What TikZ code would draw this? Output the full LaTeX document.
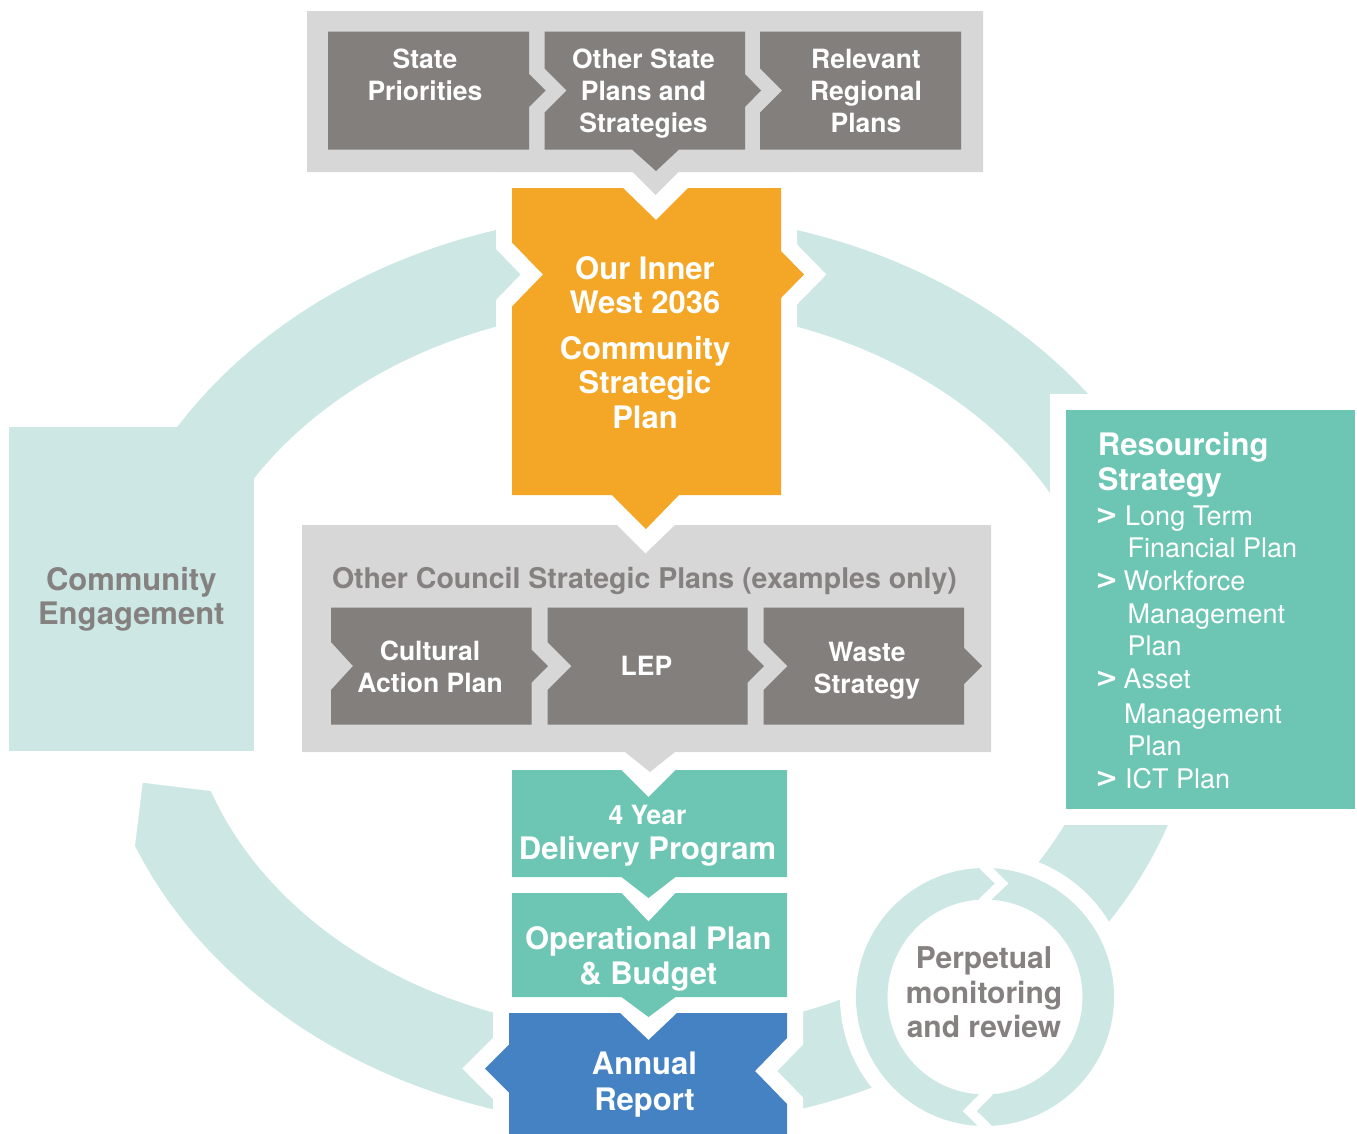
\documentclass[tikz,border=0pt]{standalone}
\usepackage{fontspec}
\setmainfont{TeX Gyre Heros}
\newfontfamily\chevfont{DejaVu Sans}
\definecolor{dgray}{HTML}{837F7C}
\definecolor{lgray}{HTML}{D7D7D7}
\definecolor{orng}{HTML}{F4A726}
\definecolor{tealm}{HTML}{6CC6B3}
\definecolor{teall}{HTML}{CDE8E4}
\definecolor{blu}{HTML}{4582C3}
\definecolor{gtext}{HTML}{858180}
\begin{document}
\begin{tikzpicture}[x=1pt,y=-1pt,
  halo/.style={preaction={draw=white,line width=32pt,line join=miter,miter limit=10}},
  boxtxt/.style={font=\fontsize{26.5}{32}\selectfont\bfseries,text=white,align=center,inner sep=0pt,anchor=north},
  bigtxt/.style={font=\fontsize{31}{34}\selectfont\bfseries,text=white,align=center,inner sep=0pt,anchor=north},
  graytxt/.style={font=\fontsize{31}{34}\selectfont\bfseries,text=gtext,align=center,inner sep=0pt,anchor=north},
  itemtxt/.style={font=\fontsize{27}{32}\selectfont,text=white,inner sep=0pt,anchor=base west},
  arrtxt/.style={font=\chevfont\fontsize{27.5}{32}\selectfont\bfseries,text=white,inner sep=0pt,anchor=base west}]
\useasboundingbox (0,0) rectangle (1357,1133);
% big ring
\fill[teall,even odd rule] (646.5,670) ellipse [x radius=554pt,y radius=457pt]
  (646.5,670) ellipse [x radius=462pt,y radius=363pt];
% cut at end of bottom-left piece
\fill[white] (135,846) -- (142.7,782.7) -- (211,791) -- (262,797) -- (262,751) -- (0,751) -- (0,846) -- cycle;
% community engagement box
\fill[teall] (9,427) rectangle (254,751);
% orange box
\fill[orng,halo] (512,188) -- (623,188) -- (656,220) -- (688,188) -- (781,188) -- (781,251) -- (804,274.5) -- (781,298)
  -- (781,495) -- (679,495) -- (646,529) -- (612,495) -- (512,495) -- (512,306.5) -- (543,274.5) -- (512,242.5) -- cycle;
% resourcing box
\fill[tealm,halo] (1066,410) rectangle (1355,809);
% annual report
\fill[blu,halo] (509,1013) -- (620,1013) -- (648.5,1040) -- (677,1013) -- (787,1013) -- (787,1038) -- (755,1071)
  -- (787,1104) -- (787,1140) -- (509,1140) -- (509,1092.5) -- (485,1068.5) -- (509,1044.5) -- cycle;
% small circle
\fill[white] (985,997) circle[radius=145pt];
\fill[teall,even odd rule] (985,997) circle[radius=129pt] (985,997) circle[radius=97.5pt];
\fill[white] (979,858) -- (979,868) -- (995,883.5) -- (979,899) -- (979,906) -- (991,906) -- (991,900) -- (1008.3,883.5) -- (993,868) -- (993,858) -- cycle;
\fill[white] (978.5,1088) -- (978.5,1095) -- (962.7,1111) -- (979,1127) -- (979,1136) -- (993,1136) -- (993,1127) -- (976.7,1111) -- (992.5,1095) -- (992.5,1088) -- cycle;
% top panel
\fill[lgray] (307,11) -- (983,11) -- (983,172) -- (678.5,172) -- (655.5,195) -- (632.5,172) -- (307,172) -- cycle;
\fill[dgray] (328,31.5) -- (529,31.5) -- (529,74) -- (545.5,90.5) -- (529,107) -- (529,149.5) -- (328,149.5) -- cycle;
\fill[dgray] (544.5,31.5) -- (745,31.5) -- (745,74) -- (761,90.5) -- (745,107) -- (745,149.5) -- (679,149.5) -- (656,171)
  -- (632,149.5) -- (544.5,149.5) -- (544.5,112.5) -- (566.5,90.5) -- (544.5,68.5) -- cycle;
\fill[dgray] (760,31.5) -- (961,31.5) -- (961,149.5) -- (760,149.5) -- (760,112.5) -- (782,90.5) -- (760,68.5) -- cycle;
% middle panel
\fill[lgray] (302,525) -- (617,525) -- (645.5,553.5) -- (675,525) -- (991,525) -- (991,752) -- (675,752) -- (650,772)
  -- (625,752) -- (302,752) -- cycle;
\fill[dgray] (331,607.5) -- (531.5,607.5) -- (531.5,649.5) -- (548,666) -- (531.5,682.5) -- (531.5,724.5) -- (331,724.5)
  -- (331,690) -- (353,666) -- (331,642) -- cycle;
\fill[dgray] (547.5,607.5) -- (747.5,607.5) -- (747.5,649.5) -- (764,666) -- (747.5,682.5) -- (747.5,724.5) -- (547.5,724.5)
  -- (547.5,690) -- (571.5,666) -- (547.5,642) -- cycle;
\fill[dgray] (763.5,607.5) -- (964,607.5) -- (964,648) -- (982,666) -- (964,684) -- (964,724.5) -- (763.5,724.5)
  -- (763.5,690) -- (787.5,666) -- (763.5,642) -- cycle;
% delivery program and operational plan
\fill[tealm] (512,770) -- (621.5,770) -- (648.5,797) -- (675.5,770) -- (787,770) -- (787,877) -- (675.5,877) -- (648.5,898)
  -- (621.5,877) -- (512,877) -- cycle;
\fill[tealm] (512,893) -- (621.5,893) -- (648.5,921.5) -- (675.5,893) -- (787,893) -- (787,997) -- (675.5,997) -- (648.5,1017)
  -- (621.5,997) -- (512,997) -- cycle;
% texts
\node[boxtxt] (t1) at (425,48.5) {State\\Priorities};
\node[boxtxt] (t2) at (643.5,48.5) {Other State\\Plans and\\Strategies};
\node[boxtxt] (t3) at (866,48.5) {Relevant\\Regional\\Plans};
\node[bigtxt] (o1) at (645,256.3) {Our Inner\\West 2036};
\node[bigtxt,font=\fontsize{31}{34.2}\selectfont\bfseries] (o2) at (645,336.3) {Community\\Strategic\\Plan};
\node[graytxt,font=\fontsize{28.5}{32}\selectfont\bfseries] (oc) at (644.5,567.2) {Other Council Strategic Plans (examples only)};
\node[boxtxt] (m1) at (430,640.5) {Cultural\\Action Plan};
\node[boxtxt] (m2) at (646.5,655.5) {LEP};
\node[boxtxt] (m3) at (867,641.8) {Waste\\Strategy};
\node[boxtxt] (d1) at (647.5,805.2) {4 Year};
\node[bigtxt] (d2) at (647.5,835.8) {Delivery Program};
\node[bigtxt,font=\fontsize{31}{35}\selectfont\bfseries] (op) at (648.3,925.8) {Operational Plan\\\& Budget};
\node[bigtxt,font=\fontsize{31}{36}\selectfont\bfseries] (ar) at (644.5,1051.8) {Annual\\Report};
\node[graytxt] (ce) at (131.3,566.8) {Community\\Engagement};
\node[graytxt,font=\fontsize{30}{34.5}\selectfont\bfseries] (pm) at (984,946.7) {Perpetual\\monitoring\\and review};
\node[bigtxt,align=left,anchor=north west,font=\fontsize{31}{35}\selectfont\bfseries] (rs) at (1097.7,431.8) {Resourcing\\Strategy};
\node[arrtxt] (g1) at (1095,524) {>};
\node[itemtxt] (r1) at (1125,525) {Long Term};
\node[itemtxt] (r2) at (1127.3,557.2) {Financial Plan};
\node[arrtxt] (g2) at (1095,589.5) {>};
\node[itemtxt] (r3) at (1123.3,590.5) {Workforce};
\node[itemtxt] (r4) at (1127.3,623) {Management};
\node[itemtxt] (r5) at (1127.3,655.7) {Plan};
\node[arrtxt] (g3) at (1095,687.4) {>};
\node[itemtxt] (r6) at (1123.3,688.4) {Asset};
\node[itemtxt] (r7) at (1124,723) {Management};
\node[itemtxt] (r8) at (1127.3,755.7) {Plan};
\node[arrtxt] (g4) at (1095,787) {>};
\node[itemtxt] (r9) at (1125,788) {ICT Plan};
\end{tikzpicture}
\end{document}
